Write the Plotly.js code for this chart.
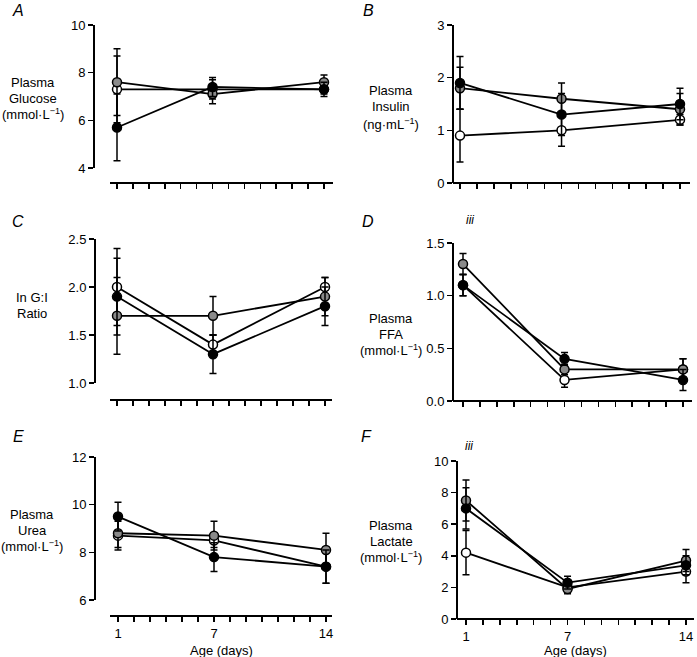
<!DOCTYPE html>
<html>
<head>
<meta charset="utf-8">
<script src="https://cdn.plot.ly/plotly-3.0.1.min.js"></script>
<style>html,body{margin:0;padding:0;background:#fff;}#chart{width:697px;height:657px;}</style>
</head>
<body>
<div id="chart"></div>
<script>
// ---------- DATA ----------
const days = [1, 7, 14];
const dayTicks = [1,2,3,4,5,6,7,8,9,10,11,12,13,14];
const dayLabelVals = [1, 7, 14];
const dayLabelText = ['1', '7', '14'];

const glucoseWhite = [7.3, 7.3, 7.3];   const glucoseWhiteErr = [1.4, 0.4, 0.2];
const glucoseGrey  = [7.6, 7.1, 7.6];   const glucoseGreyErr  = [1.4, 0.4, 0.3];
const glucoseBlack = [5.7, 7.4, 7.3];   const glucoseBlackErr = [1.4, 0.4, 0.3];

const insulinWhite = [0.9, 1.0, 1.2];   const insulinWhiteErr = [0.5, 0.3, 0.1];
const insulinGrey  = [1.8, 1.6, 1.4];   const insulinGreyErr  = [0.4, 0.3, 0.3];
const insulinBlack = [1.9, 1.3, 1.5];   const insulinBlackErr = [0.5, 0.4, 0.3];

const giWhite = [2.0, 1.4, 2.0];        const giWhiteErr = [0.4, 0.1, 0.1];
const giGrey  = [1.7, 1.7, 1.9];        const giGreyErr  = [0.4, 0.2, 0.2];
const giBlack = [1.9, 1.3, 1.8];        const giBlackErr = [0.4, 0.2, 0.2];

const ffaWhite = [1.1, 0.2, 0.3];       const ffaWhiteErr = [0.1, 0.07, 0.1];
const ffaGrey  = [1.3, 0.3, 0.3];       const ffaGreyErr  = [0.1, 0.05, 0.1];
const ffaBlack = [1.1, 0.4, 0.2];       const ffaBlackErr = [0.1, 0.06, 0.1];

const ureaWhite = [8.7, 8.5, 7.4];      const ureaWhiteErr = [0.6, 0.3, 0.7];
const ureaGrey  = [8.8, 8.7, 8.1];      const ureaGreyErr  = [0.6, 0.6, 0.7];
const ureaBlack = [9.5, 7.8, 7.4];      const ureaBlackErr = [0.6, 0.6, 0.7];

const lactateWhite = [4.2, 2.0, 3.0];   const lactateWhiteErr = [1.4, 0.3, 0.7];
const lactateGrey  = [7.5, 1.9, 3.7];   const lactateGreyErr  = [1.3, 0.3, 0.7];
const lactateBlack = [7.0, 2.3, 3.4];   const lactateBlackErr = [1.3, 0.4, 0.6];

const panelLetters = ['A','B','C','D','E','F'];
const yTitleLines = [
  ['Plasma', 'Glucose', '(mmol·L<sup>−1</sup>)'],
  ['Plasma', 'Insulin', '(ng·mL<sup>−1</sup>)'],
  ['In G:I', 'Ratio'],
  ['Plasma', 'FFA', '(mmol·L<sup>−1</sup>)'],
  ['Plasma', 'Urea', '(mmol·L<sup>−1</sup>)'],
  ['Plasma', 'Lactate', '(mmol·L<sup>−1</sup>)']
];
const xTitle = 'Age (days)';
const sigLabel = 'iii';

const seriesByPanel = [
  [[glucoseWhite, glucoseWhiteErr], [glucoseGrey, glucoseGreyErr], [glucoseBlack, glucoseBlackErr]],
  [[insulinWhite, insulinWhiteErr], [insulinGrey, insulinGreyErr], [insulinBlack, insulinBlackErr]],
  [[giWhite, giWhiteErr], [giGrey, giGreyErr], [giBlack, giBlackErr]],
  [[ffaWhite, ffaWhiteErr], [ffaGrey, ffaGreyErr], [ffaBlack, ffaBlackErr]],
  [[ureaWhite, ureaWhiteErr], [ureaGrey, ureaGreyErr], [ureaBlack, ureaBlackErr]],
  [[lactateWhite, lactateWhiteErr], [lactateGrey, lactateGreyErr], [lactateBlack, lactateBlackErr]]
];
const yTickVals = [[4,6,8,10],[0,1,2,3],[1.0,1.5,2.0,2.5],[0,0.5,1.0,1.5],[6,8,10,12],[0,2,4,6,8,10]];
const yTickFmt = ['d','d','.1f','.1f','d','d'];

// ---------- LAYOUT (pixel geometry) ----------
const W = 697, H = 657;
const geom = [
  {yx:94,  yTop:25,  yBot:168, yMin:4, yMax:10, xLine:183, xL:110, xR:333, p1:117, p14:324, lx:18,  ly:10,  tx:33,  ty:[82,98,114]},
  {yx:453, yTop:25,  yBot:183, yMin:0, yMax:3,  xLine:183, xL:453, xR:690, p1:460, p14:680, lx:368, ly:11,  tx:391, ty:[90,107,124]},
  {yx:95,  yTop:239, yBot:383, yMin:1, yMax:2.5,xLine:400, xL:110, xR:332, p1:117, p14:325, lx:18,  ly:221, tx:32,  ty:[297,313]},
  {yx:453, yTop:243, yBot:401, yMin:0, yMax:1.5,xLine:401, xL:453, xR:692, p1:463, p14:683, lx:368, ly:221, tx:391, ty:[318,334,350]},
  {yx:95,  yTop:457, yBot:600, yMin:6, yMax:12, xLine:616, xL:110, xR:332, p1:118, p14:326, lx:18,  ly:436, tx:32,  ty:[514,530,546]},
  {yx:457, yTop:461, yBot:619, yMin:0, yMax:10, xLine:619, xL:457, xR:694, p1:466, p14:686, lx:367, ly:436, tx:391, ty:[525,541,557]}
];
const sigPos = [[3, 470, 220], [5, 469, 446]];
const colors = ['#ffffff', '#8a8a8a', '#000000'];
const FONT = 'Liberation Sans, Arial, Helvetica, sans-serif';

const layout = {
  width: W, height: H,
  margin: {l:0, r:0, t:0, b:0},
  paper_bgcolor: '#fff', plot_bgcolor: 'rgba(0,0,0,0)',
  showlegend: false,
  font: {family: FONT, size: 13, color: '#000'},
  annotations: []
};
const traces = [];

function ann(x, y, text, font) {
  layout.annotations.push({
    xref: 'paper', yref: 'paper', x: x / W, y: 1 - y / H,
    text: text, showarrow: false, xanchor: 'center', yanchor: 'middle', align: 'center',
    font: Object.assign({family: FONT, size: 13, color: '#000'}, font || {})
  });
}

geom.forEach((g, i) => {
  const n = i + 1;
  const xk = 'xaxis' + (n === 1 ? '' : n), yk = 'yaxis' + (n === 1 ? '' : n);
  const xr = 'x' + (n === 1 ? '' : n), yr = 'y' + (n === 1 ? '' : n);
  const s = (g.p14 - g.p1) / 13;
  const labelled = i >= 4;
  layout[xk] = {
    domain: [g.xL / W, g.xR / W],
    range: [1 - (g.p1 - g.xL) / s, 14 + (g.xR - g.p14) / s],
    anchor: 'free', position: 1 - g.xLine / H,
    showline: true, linecolor: '#000', linewidth: 2,
    ticks: 'outside', ticklen: 5, tickwidth: 1.5, tickcolor: '#000',
    tickmode: 'array',
    tickvals: labelled ? dayLabelVals : dayTicks,
    ticktext: labelled ? dayLabelText : undefined,
    showticklabels: labelled,
    tickfont: {family: FONT, size: 13, color: '#000'},
    showgrid: false, zeroline: false, fixedrange: true
  };
  if (labelled) {
    layout[xk].minor = {tickmode: 'array', tickvals: dayTicks, ticks: 'outside', ticklen: 5, tickwidth: 1.5, tickcolor: '#000', showgrid: false};
  }
  layout[yk] = {
    domain: [1 - g.yBot / H, 1 - g.yTop / H],
    range: [g.yMin, g.yMax],
    anchor: 'free', position: g.yx / W,
    showline: true, linecolor: '#000', linewidth: 2,
    ticks: 'outside', ticklen: 5, tickwidth: 1.5, tickcolor: '#000',
    tickvals: yTickVals[i], tickformat: yTickFmt[i],
    tickfont: {family: FONT, size: 13, color: '#000'},
    showgrid: false, zeroline: false, fixedrange: true
  };
  seriesByPanel[i].forEach((sr, k) => {
    traces.push({
      type: 'scatter', mode: 'lines+markers',
      x: days, y: sr[0], xaxis: xr, yaxis: yr,
      cliponaxis: false,
      line: {color: '#000', width: 1.8},
      marker: {symbol: 'circle', size: 9, color: colors[k], line: {color: '#000', width: 1.5}},
      error_y: {type: 'data', array: sr[1], visible: true, color: '#000', thickness: 1.5, width: 3.5},
      hoverinfo: 'skip'
    });
  });
  ann(g.lx, g.ly, panelLetters[i], {size: 16, style: 'italic'});
  yTitleLines[i].forEach((t, j) => ann(g.tx, g.ty[j], t));
  if (labelled) ann((g.xL + g.xR) / 2, 650, xTitle);
});
sigPos.forEach(p => ann(p[1], p[2], sigLabel, {size: 12, style: 'italic'}));

Plotly.newPlot('chart', traces, layout, {staticPlot: true, displayModeBar: false});
</script>
</body>
</html>
